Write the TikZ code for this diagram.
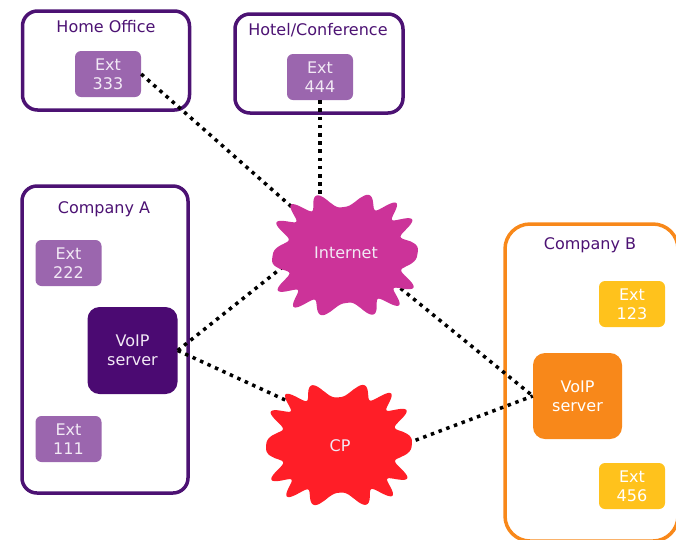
\documentclass[tikz,border=0pt]{standalone}
\usepackage{fontspec}
\setmainfont{DejaVu Sans}
\usetikzlibrary{shapes.geometric}
\definecolor{sitepurple}{HTML}{4C1273}
\definecolor{extpurple}{HTML}{9B66AE}
\definecolor{voippurple}{HTML}{4B0A72}
\definecolor{orangeB}{HTML}{F8881A}
\definecolor{yellowB}{HTML}{FFC21C}
\definecolor{netmagenta}{HTML}{CC3399}
\definecolor{cpred}{HTML}{FF1E27}
\definecolor{paletxt}{HTML}{F2E9F5}
\pgfdeclarelayer{front}
\pgfsetlayers{main,front}
\tikzset{
  txt/.style={font=\fontsize{16}{19}\selectfont, align=center, inner sep=0pt},
  title/.style={txt, text=sitepurple, text height=11.5pt, text depth=0pt},
  site/.style={draw=#1, line width=3.5pt, rounded corners=15pt, inner sep=0pt},
  extbox/.style={txt, fill=#1, text=paletxt, rounded corners=6pt, minimum width=66pt, minimum height=46pt},
  voipbox/.style={txt, fill=#1, text=paletxt, rounded corners=12pt, minimum width=90pt, minimum height=87pt},
  cloudtxt/.style={txt, text=paletxt, ellipse, minimum width=120pt, minimum height=100pt},
  link/.style={line width=3.5pt, dash pattern=on 3.5pt off 4.7pt}
}
\begin{document}
\begin{tikzpicture}[x=1pt, y=-1pt]
\useasboundingbox (0, 0) rectangle (676, 539);
\clip (0, 0) rectangle (676, 539);
% sites
\node [site=sitepurple, minimum width=167pt, minimum height=99pt] (home) at (106, 60.5) {};
\node [title] (hometitle) at (106, 27) {Home Office};
\node [extbox=extpurple] (ext333) at (108, 74) {Ext\\333};
\node [site=sitepurple, minimum width=168pt, minimum height=99pt] (hotel) at (319, 63.5) {};
\node [title] (hoteltitle) at (318, 30) {Hotel/Conference};
\node [extbox=extpurple] (ext444) at (320, 77) {Ext\\444};
% company A
\node [site=sitepurple, minimum width=166pt, minimum height=307pt] (compA) at (105, 339.5) {};
\node [title] (compAtitle) at (104, 208) {Company A};
\node [extbox=extpurple] (ext222) at (68.5, 263) {Ext\\222};
\node [voipbox=voippurple] (voipA) at (132.5, 350.5) {VoIP\\server};
\node [extbox=extpurple] (ext111) at (68.5, 439) {Ext\\111};
% company B
\node [site=orangeB, rounded corners=25pt, minimum width=173pt, minimum height=317pt] (compB) at (591.5, 382.5) {};
\node [title] (compBtitle) at (590, 244) {Company B};
\node [extbox=yellowB, text=white] (ext123) at (632, 304) {Ext\\123};
\node [voipbox=orangeB, text=white, minimum width=89pt, minimum height=86pt] (voipB) at (577.5, 396) {VoIP\\server};
\node [extbox=yellowB, text=white] (ext456) at (632, 486) {Ext\\456};
% clouds
\begin{pgfonlayer}{front}
\fill [netmagenta] plot [domain=0.5:360.5, samples=361, smooth] ({345 + 73*(1 - 0.22*sin(7*\x + 12)^2)*sign(cos(\x))*abs(cos(\x))^0.7}, {255 + 61*(1 - 0.22*sin(7*\x + 12)^2)*sign(sin(\x))*abs(sin(\x))^0.7}) -- cycle;
\node [cloudtxt] (inet) at (346, 253) {Internet};
\fill [cpred] plot [domain=0.5:360.5, samples=361, smooth] ({339 + 73*(1 - 0.22*sin(7*\x + 6)^2)*sign(cos(\x))*abs(cos(\x))^0.7}, {445 + 61*(1 - 0.22*sin(7*\x + 6)^2)*sign(sin(\x))*abs(sin(\x))^0.7}) -- cycle;
\node [cloudtxt] (cp) at (340, 446) {CP};
\end{pgfonlayer}
% links
\draw [link] (ext333.east) -- (inet.140);
\draw [link] (ext444.south) -- (ext444.south |- inet.center);
\draw [link] (voipA.east) -- (inet.190);
\draw [link] (voipA.east) -- (cp.135);
\draw [link] (inet.-32) -- (voipB.west);
\draw [link] (cp.east) -- (voipB.west);
\end{tikzpicture}
\end{document}
